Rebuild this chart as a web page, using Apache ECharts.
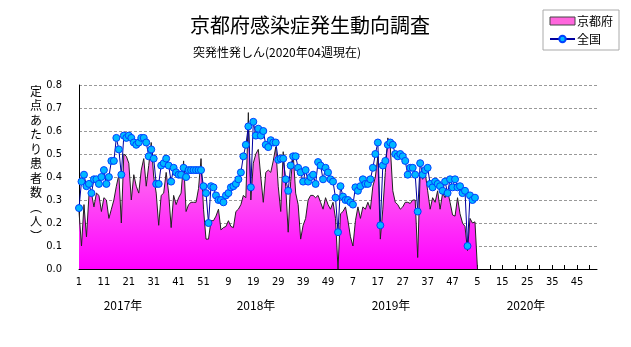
<!DOCTYPE html>
<html><head><meta charset="utf-8">
<script src="https://cdn.jsdelivr.net/npm/echarts@6/dist/echarts.min.js"></script>
<style>html,body{margin:0;padding:0;background:#fff}#c{width:631px;height:347px}</style>
</head><body><div id="c"></div>
<script>
var years = [2017, 2018, 2019, 2020];
var weeksPerYear = [52, 52, 52, 53];
var yearLabels = ['2017年', '2018年', '2019年', '2020年'];

var kyoto2017 = [0.25,0.10,0.28,0.14,0.32,0.33,0.27,0.33,0.32,0.25,0.31,0.30,0.22,0.26,0.30,0.36,0.41,0.20,0.50,0.49,0.46,0.30,0.41,0.36,0.33,0.43,0.48,0.36,0.45,0.55,0.40,0.33,0.19,0.32,0.33,0.42,0.33,0.18,0.32,0.28,0.31,0.33,0.47,0.25,0.28,0.29,0.29,0.29,0.35,0.48,0.26,0.13];
var kyoto2018 = [0.13,0.21,0.21,0.23,0.26,0.17,0.18,0.185,0.21,0.185,0.18,0.25,0.26,0.28,0.32,0.31,0.68,0.30,0.46,0.50,0.52,0.40,0.29,0.42,0.43,0.42,0.47,0.53,0.36,0.25,0.51,0.36,0.16,0.38,0.50,0.33,0.28,0.13,0.19,0.22,0.30,0.32,0.32,0.31,0.32,0.29,0.26,0.31,0.28,0.26,0.29,0.22];
var kyoto2019 = [0.00,0.24,0.25,0.27,0.21,0.14,0.10,0.21,0.27,0.22,0.27,0.26,0.29,0.26,0.36,0.40,0.49,0.13,0.26,0.42,0.57,0.53,0.34,0.29,0.28,0.26,0.27,0.29,0.29,0.285,0.30,0.30,0.05,0.42,0.39,0.42,0.34,0.26,0.31,0.29,0.34,0.26,0.33,0.31,0.34,0.29,0.235,0.23,0.31,0.24,0.20,0.185];
var kyoto2020 = [0.08,0.22,0.20,0.205,0];

var zenkoku2017 = [0.265,0.38,0.41,0.36,0.37,0.33,0.39,0.39,0.37,0.40,0.43,0.37,0.40,0.47,0.47,0.57,0.52,0.41,0.58,0.57,0.58,0.57,0.55,0.54,0.55,0.57,0.57,0.55,0.49,0.52,0.48,0.37,0.37,0.45,0.46,0.48,0.45,0.38,0.44,0.42,0.41,0.41,0.44,0.40,0.43,0.43,0.43,0.43,0.43,0.43,0.36,0.33];
var zenkoku2018 = [0.20,0.36,0.355,0.32,0.30,0.30,0.29,0.32,0.33,0.355,0.36,0.37,0.39,0.42,0.49,0.54,0.62,0.355,0.64,0.58,0.61,0.58,0.60,0.54,0.53,0.56,0.55,0.55,0.475,0.48,0.48,0.39,0.34,0.45,0.49,0.49,0.44,0.42,0.38,0.43,0.38,0.40,0.41,0.37,0.465,0.45,0.39,0.44,0.42,0.39,0.38,0.31];
var zenkoku2019 = [0.16,0.36,0.315,0.30,0.30,0.29,0.28,0.355,0.34,0.36,0.39,0.37,0.37,0.39,0.44,0.50,0.55,0.19,0.45,0.47,0.54,0.55,0.54,0.50,0.49,0.50,0.49,0.47,0.41,0.44,0.44,0.41,0.25,0.46,0.41,0.43,0.44,0.37,0.355,0.38,0.37,0.36,0.34,0.38,0.33,0.39,0.355,0.39,0.355,0.36,0.33,0.34];
var zenkoku2020 = [0.10,0.32,0.30,0.31];

var yTicks = [0,0.1,0.2,0.3,0.4,0.5,0.6,0.7,0.8];

var categories = [], weekNo = [];
years.forEach(function(y, k){
  for (var w = 1; w <= weeksPerYear[k]; w++) { categories.push(y + '-' + w); weekNo.push(w); }
});
var kyoto = kyoto2017.concat(kyoto2018, kyoto2019, kyoto2020);
var zenkoku = zenkoku2017.concat(zenkoku2018, zenkoku2019, zenkoku2020);

var FONT = '"Noto Sans CJK JP", sans-serif';
var NUMF = '"Liberation Sans Narrow", "DejaVu Sans Condensed", sans-serif';

var chart = echarts.init(document.getElementById('c'), null, {renderer: 'canvas'});
var yearX = [123, 256, 391, 526];
var graphics = [
  {type:'text', style:{text:'京都府感染症発生動向調査', x:310, y:25, font:'20px ' + FONT, fill:'#000', textAlign:'center', textVerticalAlign:'middle'}},
  {type:'text', style:{text:'突発性発しん(2020年04週現在)', x:193, y:52, font:'12px ' + FONT, fill:'#000', textAlign:'left', textVerticalAlign:'middle'}},
  {type:'text', style:{text:'定\n点\nあ\nた\nり\n患\n者\n数\n︵\n人\n︶', x:36, y:84, font:'12px ' + FONT, lineHeight:14.5, fill:'#000', textAlign:'center', textVerticalAlign:'top'}}
];
yearLabels.forEach(function(t, k){
  graphics.push({type:'text', style:{text:t, x:yearX[k], y:305, font:'12px ' + FONT, fill:'#000', textAlign:'center', textVerticalAlign:'middle'}});
});

chart.setOption({
  animation: false,
  backgroundColor: '#fff',
  graphic: graphics,
  legend: {
    orient: 'vertical', left: 543, top: 10,
    padding: [5, 6, 5, 6], itemGap: 6, itemWidth: 25, itemHeight: 8,
    borderColor: '#aaa', borderWidth: 1,
    textStyle: {fontFamily: FONT, fontSize: 12, color: '#000', padding: [0,0,0,-3]},
    data: [
      {name: '京都府', icon: 'rect', itemStyle: {color: '#ff66dd', borderColor: '#444', borderWidth: 1}},
      {name: '全国'}
    ]
  },
  grid: {left: 79, right: 34, top: 85, bottom: 78},
  xAxis: {
    type: 'category', data: categories, boundaryGap: false,
    axisLine: {lineStyle: {color: '#000', width: 1}},
    axisTick: {inside: true, length: 4, interval: 4, lineStyle: {color: '#000'}},
    axisLabel: {interval: 9, margin: 8, fontFamily: NUMF, fontSize: 11, color: '#000',
      formatter: function(v, i){ return String(weekNo[i]); }},
    splitLine: {show: false}
  },
  yAxis: {
    type: 'value', min: yTicks[0], max: yTicks[yTicks.length-1], interval: 0.1,
    axisLine: {show: true, lineStyle: {color: '#000', width: 1}},
    axisTick: {show: false},
    axisLabel: {margin: 17, fontFamily: NUMF, fontSize: 11, color: '#000',
      formatter: function(v){ return v.toFixed(1); }},
    splitLine: {lineStyle: {color: '#999', type: [3, 2], width: 1}}
  },
  series: [
    {
      name: '京都府', type: 'line', data: kyoto, symbol: 'none',
      lineStyle: {color: '#222', width: 1},
      itemStyle: {color: '#ff66dd'},
      areaStyle: {opacity: 1, color: new echarts.graphic.LinearGradient(0, 0, 0, 1, [
        {offset: 0, color: '#ffa8e8'}, {offset: 1, color: '#ff00ff'}
      ])},
      z: 2
    },
    {
      name: '全国', type: 'line', data: zenkoku, symbol: 'circle', symbolSize: 7,
      showAllSymbol: true,
      lineStyle: {color: '#0000a0', width: 1},
      itemStyle: {color: '#00b8ff', borderColor: '#0040ff', borderWidth: 1},
      z: 3
    }
  ]
});
</script></body></html>
